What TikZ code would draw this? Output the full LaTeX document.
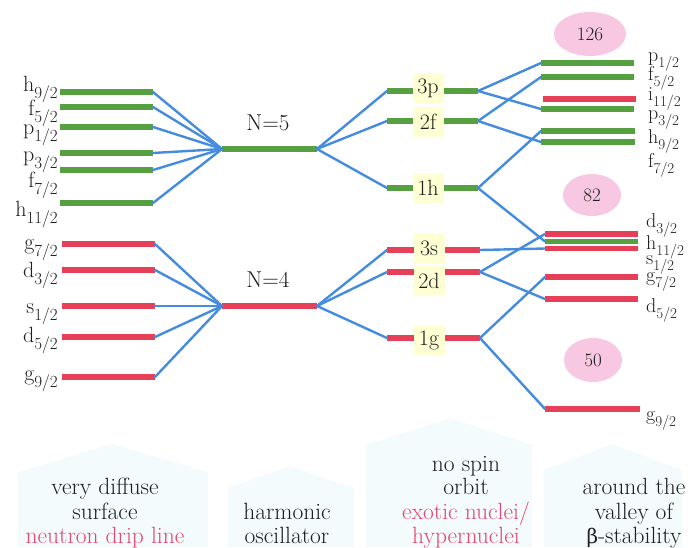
\documentclass[tikz,border=0pt]{standalone}
\usepackage{fontspec}
\newfontfamily\grkfont{DejaVu Serif}
\usetikzlibrary{shapes.geometric}

\definecolor{lvgreen}{RGB}{86,160,66}
\definecolor{lvred}{RGB}{230,64,88}
\definecolor{conn}{RGB}{70,140,222}
\definecolor{ink}{RGB}{30,30,30}
\definecolor{hot}{RGB}{228,70,110}
\definecolor{tagfill}{RGB}{255,255,212}
\definecolor{magic}{RGB}{248,200,226}
\definecolor{haze}{RGB}{244,251,252}

% orbital label: letter with lowered j-subscript
\newcommand\nlj[2]{#1\raisebox{-7pt}{\fontsize{17}{17}\selectfont #2}}
\newcommand\nljr[2]{#1\raisebox{-6pt}{\fontsize{15}{15}\selectfont #2}}
% level: two named end coordinates and the bar between them
\newcommand\mklevel[5]{%
  \coordinate (#1L) at (#3,#5);
  \coordinate (#1R) at (#4,#5);
  \draw[#2] (#1L) -- (#1R);}

\begin{document}
\begin{tikzpicture}[x=1pt,y=-1pt,
  glev/.style={draw=lvgreen, line width=5.8pt},
  rlev/.style={draw=lvred, line width=5.8pt},
  link/.style={draw=conn, line width=2.4pt, line join=round, line cap=round},
  tag/.style={fill=tagfill, minimum width=31pt, minimum height=30pt, inner sep=0pt,
    font=\fontsize{22}{22}\selectfont, text=ink},
  shell/.style={font=\fontsize{23}{23}\selectfont, text=ink, inner sep=0pt},
  magicnum/.style={ellipse, fill=magic, inner sep=0pt,
    font=\fontsize{19}{19}\selectfont, text=ink},
  orbl/.style={font=\fontsize{22}{22}\selectfont, text=ink, inner sep=0pt, anchor=base east},
  orbr/.style={font=\fontsize{20}{20}\selectfont, text=ink, inner sep=0pt, anchor=base west},
  note/.style={font=\fontsize{23.5}{23.5}\selectfont, text=ink, inner sep=0pt, anchor=base},
  hotnote/.style={note, text=hot}]

\useasboundingbox (0,0) rectangle (694,547);

% faint house-shaped panels behind the captions
\fill[haze] (18,547) -- (18,472) -- (112,444) -- (208,472) -- (208,547) -- cycle;
\fill[haze] (228,547) -- (228,488) -- (290,466) -- (354,488) -- (354,547) -- cycle;
\fill[haze] (366,547) -- (366,445) -- (450,418) -- (532,445) -- (532,547) -- cycle;
\fill[haze] (544,547) -- (544,470) -- (612,444) -- (682,470) -- (682,547) -- cycle;

% ---------- left column: full spin-orbit levels ----------
\mklevel{lh9}{glev}{60}{153}{92}
\mklevel{lf5}{glev}{60}{153}{107}
\mklevel{lp1}{glev}{60}{153}{127}
\mklevel{lp3}{glev}{60}{153}{153}
\mklevel{lf7}{glev}{60}{153}{170}
\mklevel{lh11}{glev}{60}{153}{203}
\mklevel{lg7}{rlev}{62}{155}{244}
\mklevel{ld3}{rlev}{62}{155}{270}
\mklevel{ls1}{rlev}{62}{155}{306}
\mklevel{ld5}{rlev}{62}{155}{337}
\mklevel{lg9}{rlev}{62}{155}{377}

\node[orbl] (tlh9) at (58,91) {\nlj{h}{9/2}};
\node[orbl] (tlf5) at (58,115) {\nlj{f}{5/2}};
\node[orbl] (tlp1) at (58,134) {\nlj{p}{1/2}};
\node[orbl] (tlp3) at (58,161) {\nlj{p}{3/2}};
\node[orbl] (tlf7) at (58,187) {\nlj{f}{7/2}};
\node[orbl] (tlh11) at (58,216) {\nlj{h}{11/2}};
\node[orbl] (tlg7) at (58,249) {\nlj{g}{7/2}};
\node[orbl] (tld3) at (58,277) {\nlj{d}{3/2}};
\node[orbl] (tls1) at (58,313) {\nlj{s}{1/2}};
\node[orbl] (tld5) at (58,342) {\nlj{d}{5/2}};
\node[orbl] (tlg9) at (58,380) {\nlj{g}{9/2}};

% ---------- harmonic oscillator shells ----------
\mklevel{N5}{glev}{222}{317}{149}
\mklevel{N4}{rlev}{222}{317}{306}
\node[shell] (tN5) at (268,123) {N=5};
\node[shell] (tN4) at (268,280) {N=4};

% ---------- middle column: no spin-orbit ----------
\mklevel{m3p}{glev}{387}{478}{91}
\mklevel{m2f}{glev}{387}{478}{121}
\mklevel{m1h}{glev}{387}{478}{188}
\mklevel{m3s}{rlev}{387}{480}{250}
\mklevel{m2d}{rlev}{387}{480}{272}
\mklevel{m1g}{rlev}{387}{480}{338}

\node[tag] (t3p) at (428,88) {3p};
\node[tag] (t2f) at (428,122) {2f};
\node[tag] (t1h) at (428,188) {1h};
\node[tag] (t3s) at (429,248) {3s};
\node[tag] (t2d) at (429,281) {2d};
\node[tag] (t1g) at (429,340) {1g};

% ---------- right column: valley of stability ----------
\mklevel{rp1}{glev}{541}{634}{63}
\mklevel{rf5}{glev}{541}{634}{77}
\mklevel{ri11}{rlev}{543}{636}{99}
\mklevel{rp3}{glev}{541}{634}{109}
\mklevel{rh9}{glev}{541}{635}{131}
\mklevel{rf7}{glev}{541}{635}{142}
\mklevel{rd3}{rlev}{545}{638}{234}
\mklevel{rs1}{rlev}{545}{638}{248.5}
\mklevel{rh11}{glev}{545}{638}{241.5}
\mklevel{rg7}{rlev}{545}{638}{277}
\mklevel{rd5}{rlev}{545}{638}{299}
\mklevel{rg9}{rlev}{545}{640}{409}

\node[orbr] (trp1) at (648,61) {\nljr{p}{1/2}};
\node[orbr] (trf5) at (648,80) {\nljr{f}{5/2}};
\node[orbr] (tri11) at (648,100) {\nljr{i}{11/2}};
\node[orbr] (trp3) at (648,119) {\nljr{p}{3/2}};
\node[orbr] (trh9) at (648,143) {\nljr{h}{9/2}};
\node[orbr] (trf7) at (648,167) {\nljr{f}{7/2}};
\node[orbr] (trd3) at (646,227) {\nljr{d}{3/2}};
\node[orbr] (trh11) at (646,249) {\nljr{h}{11/2}};
\node[orbr] (trs1) at (646,264) {\nljr{s}{1/2}};
\node[orbr] (trg7) at (646,281) {\nljr{g}{7/2}};
\node[orbr] (trd5) at (646,312) {\nljr{d}{5/2}};
\node[orbr] (trg9) at (646,420) {\nljr{g}{9/2}};

% magic numbers
\node[magicnum, minimum width=72pt, minimum height=44pt] (mg126) at (590,34) {126};
\node[magicnum, minimum width=58pt, minimum height=42pt] (mg82) at (592,195) {82};
\node[magicnum, minimum width=58pt, minimum height=44pt] (mg50) at (593,360) {50};

% ---------- connectors ----------
\foreach \s in {lh9,lf5,lp1,lp3,lf7,lh11} \draw[link] (\s R) -- (N5L);
\foreach \s in {lg7,ld3,ls1,ld5,lg9} \draw[link] (\s R) -- (N4L);
\foreach \s in {m3p,m2f,m1h} \draw[link] (N5R) -- (\s L);
\foreach \s in {m3s,m2d,m1g} \draw[link] (N4R) -- (\s L);
\draw[link] (m3pR) -- (rp1L);
\draw[link] (m3pR) -- (rp3L);
\draw[link] (m2fR) -- (rf5L);
\draw[link] (m2fR) -- (rf7L);
\draw[link] (m1hR) -- (rh9L);
\draw[link] (m1hR) -- (rh11L);
\draw[link] (m3sR) -- (rs1L);
\draw[link] (m2dR) -- (rd3L);
\draw[link] (m2dR) -- (rd5L);
\draw[link] (m1gR) -- (rg7L);
\draw[link] (m1gR) -- (rg9L);

% ---------- captions ----------
\node[note] (c1a) at (105,494) {very diffuse};
\node[note] (c1b) at (105,519) {surface};
\node[hotnote] (c1c) at (105,543) {neutron drip line};
\node[note] (c2a) at (287,519) {harmonic};
\node[note] (c2b) at (287,543) {oscillator};
\node[note] (c3a) at (466,471) {no spin};
\node[note] (c3b) at (466,494) {orbit};
\node[hotnote] (c3c) at (466,519) {exotic nuclei/};
\node[hotnote] (c3d) at (466,543) {hypernuclei};
\node[note] (c4a) at (634,494) {around the};
\node[note] (c4b) at (634,519) {valley of};
\node[note] (c4c) at (634,543) {{\grkfont\fontsize{20}{20}\selectfont β}-stability};

\end{tikzpicture}
\end{document}
